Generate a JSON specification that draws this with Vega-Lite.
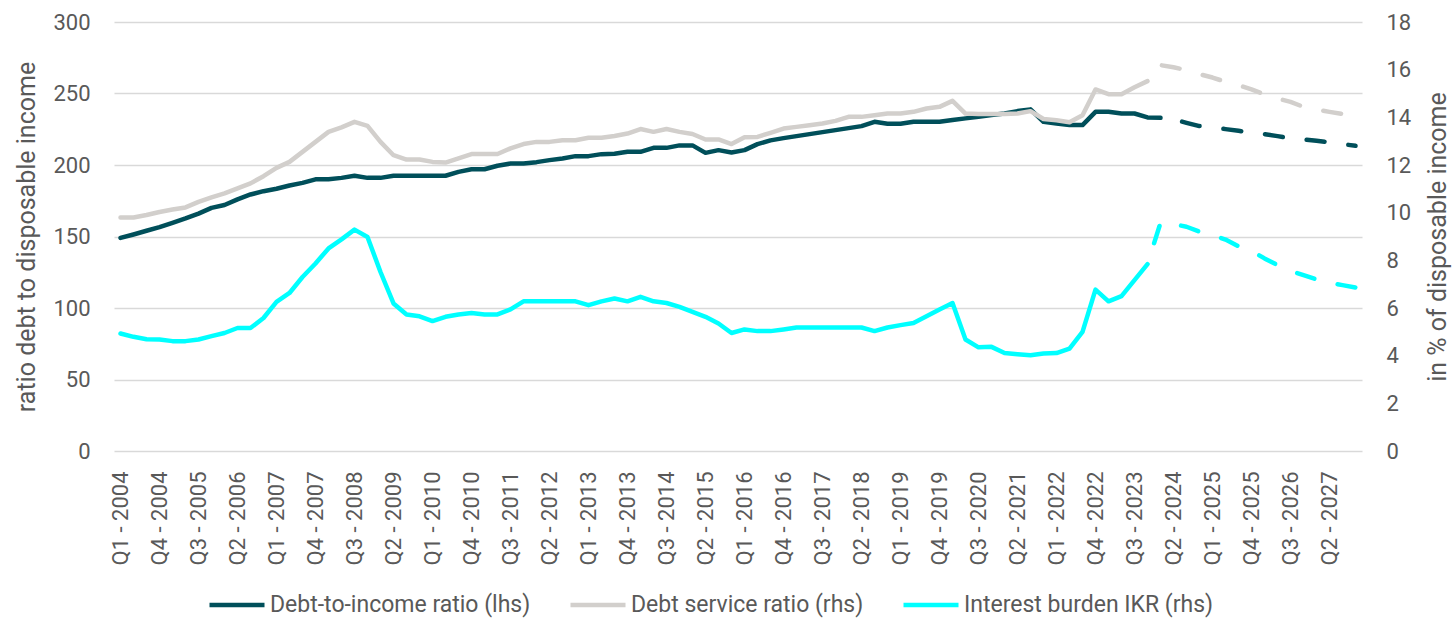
{
  "$schema": "https://vega.github.io/schema/vega-lite/v6.json",
  "width": 1248,
  "height": 429,
  "autosize": {"type": "none"},
  "padding": {"left": 114, "top": 22, "right": 93, "bottom": 172},
  "config": {
    "font": "Roboto",
    "view": {"stroke": null},
    "axis": {"labelFont": "Roboto", "titleFont": "Roboto", "labelColor": "#595959", "titleColor": "#595959", "titleFontWeight": "normal"}
  },
  "data": {"values": [
    {"i":0,"q":"Q1 - 2004","dti":149,"dsr":9.8,"ikr":4.93},
    {"i":1,"q":"Q2 - 2004","dti":151.4,"dsr":9.8,"ikr":4.79},
    {"i":2,"q":"Q3 - 2004","dti":154,"dsr":9.9,"ikr":4.69},
    {"i":3,"q":"Q4 - 2004","dti":156.5,"dsr":10.03,"ikr":4.68},
    {"i":4,"q":"Q1 - 2005","dti":159.6,"dsr":10.13,"ikr":4.61},
    {"i":5,"q":"Q2 - 2005","dti":162.6,"dsr":10.22,"ikr":4.61},
    {"i":6,"q":"Q3 - 2005","dti":166,"dsr":10.45,"ikr":4.68},
    {"i":7,"q":"Q4 - 2005","dti":170,"dsr":10.64,"ikr":4.82},
    {"i":8,"q":"Q1 - 2006","dti":172,"dsr":10.81,"ikr":4.95},
    {"i":9,"q":"Q2 - 2006","dti":176,"dsr":11.02,"ikr":5.16},
    {"i":10,"q":"Q3 - 2006","dti":179.4,"dsr":11.23,"ikr":5.16},
    {"i":11,"q":"Q4 - 2006","dti":181.7,"dsr":11.53,"ikr":5.58},
    {"i":12,"q":"Q1 - 2007","dti":183.4,"dsr":11.88,"ikr":6.26},
    {"i":13,"q":"Q2 - 2007","dti":185.7,"dsr":12.13,"ikr":6.63},
    {"i":14,"q":"Q3 - 2007","dti":187.5,"dsr":12.55,"ikr":7.3},
    {"i":15,"q":"Q4 - 2007","dti":190,"dsr":12.97,"ikr":7.87},
    {"i":16,"q":"Q1 - 2008","dti":190,"dsr":13.39,"ikr":8.5},
    {"i":17,"q":"Q2 - 2008","dti":191,"dsr":13.58,"ikr":8.88},
    {"i":18,"q":"Q3 - 2008","dti":192.5,"dsr":13.81,"ikr":9.29},
    {"i":19,"q":"Q4 - 2008","dti":191,"dsr":13.64,"ikr":8.98},
    {"i":20,"q":"Q1 - 2009","dti":191,"dsr":12.97,"ikr":7.51},
    {"i":21,"q":"Q2 - 2009","dti":192.5,"dsr":12.41,"ikr":6.19},
    {"i":22,"q":"Q3 - 2009","dti":192.5,"dsr":12.23,"ikr":5.73},
    {"i":23,"q":"Q4 - 2009","dti":192.5,"dsr":12.23,"ikr":5.65},
    {"i":24,"q":"Q1 - 2010","dti":192.5,"dsr":12.13,"ikr":5.45},
    {"i":25,"q":"Q2 - 2010","dti":192.5,"dsr":12.1,"ikr":5.63},
    {"i":26,"q":"Q3 - 2010","dti":195.2,"dsr":12.28,"ikr":5.73},
    {"i":27,"q":"Q4 - 2010","dti":197,"dsr":12.46,"ikr":5.79},
    {"i":28,"q":"Q1 - 2011","dti":197,"dsr":12.46,"ikr":5.73},
    {"i":29,"q":"Q2 - 2011","dti":199.5,"dsr":12.46,"ikr":5.73},
    {"i":30,"q":"Q3 - 2011","dti":201,"dsr":12.7,"ikr":5.94},
    {"i":31,"q":"Q4 - 2011","dti":201,"dsr":12.88,"ikr":6.28},
    {"i":32,"q":"Q1 - 2012","dti":202,"dsr":12.97,"ikr":6.28},
    {"i":33,"q":"Q2 - 2012","dti":203.4,"dsr":12.97,"ikr":6.28},
    {"i":34,"q":"Q3 - 2012","dti":204.6,"dsr":13.04,"ikr":6.28},
    {"i":35,"q":"Q4 - 2012","dti":206.2,"dsr":13.04,"ikr":6.28},
    {"i":36,"q":"Q1 - 2013","dti":206.2,"dsr":13.14,"ikr":6.12},
    {"i":37,"q":"Q2 - 2013","dti":207.6,"dsr":13.14,"ikr":6.28},
    {"i":38,"q":"Q3 - 2013","dti":207.8,"dsr":13.22,"ikr":6.4},
    {"i":39,"q":"Q4 - 2013","dti":209.2,"dsr":13.32,"ikr":6.28},
    {"i":40,"q":"Q1 - 2014","dti":209.2,"dsr":13.51,"ikr":6.47},
    {"i":41,"q":"Q2 - 2014","dti":212,"dsr":13.39,"ikr":6.28},
    {"i":42,"q":"Q3 - 2014","dti":212,"dsr":13.51,"ikr":6.21},
    {"i":43,"q":"Q4 - 2014","dti":213.7,"dsr":13.39,"ikr":6.05},
    {"i":44,"q":"Q1 - 2015","dti":213.7,"dsr":13.3,"ikr":5.84},
    {"i":45,"q":"Q2 - 2015","dti":208.5,"dsr":13.07,"ikr":5.63},
    {"i":46,"q":"Q3 - 2015","dti":210.4,"dsr":13.07,"ikr":5.35},
    {"i":47,"q":"Q4 - 2015","dti":208.8,"dsr":12.88,"ikr":4.95},
    {"i":48,"q":"Q1 - 2016","dti":210.4,"dsr":13.16,"ikr":5.1},
    {"i":49,"q":"Q2 - 2016","dti":214.6,"dsr":13.18,"ikr":5.03},
    {"i":50,"q":"Q3 - 2016","dti":217.2,"dsr":13.35,"ikr":5.03},
    {"i":51,"q":"Q4 - 2016","dti":218.8,"dsr":13.53,"ikr":5.1},
    {"i":52,"q":"Q1 - 2017","dti":220.2,"dsr":13.6,"ikr":5.18},
    {"i":53,"q":"Q2 - 2017","dti":221.6,"dsr":13.67,"ikr":5.18},
    {"i":54,"q":"Q3 - 2017","dti":223,"dsr":13.74,"ikr":5.18},
    {"i":55,"q":"Q4 - 2017","dti":224.4,"dsr":13.85,"ikr":5.18},
    {"i":56,"q":"Q1 - 2018","dti":225.8,"dsr":14.02,"ikr":5.18},
    {"i":57,"q":"Q2 - 2018","dti":227.2,"dsr":14.02,"ikr":5.18},
    {"i":58,"q":"Q3 - 2018","dti":230.2,"dsr":14.09,"ikr":5.03},
    {"i":59,"q":"Q4 - 2018","dti":228.8,"dsr":14.16,"ikr":5.18},
    {"i":60,"q":"Q1 - 2019","dti":228.8,"dsr":14.16,"ikr":5.28},
    {"i":61,"q":"Q2 - 2019","dti":230.2,"dsr":14.23,"ikr":5.37},
    {"i":62,"q":"Q3 - 2019","dti":230.2,"dsr":14.37,"ikr":5.65},
    {"i":63,"q":"Q4 - 2019","dti":230.2,"dsr":14.44,"ikr":5.94},
    {"i":64,"q":"Q1 - 2020","dti":231.4,"dsr":14.69,"ikr":6.21},
    {"i":65,"q":"Q2 - 2020","dti":232.6,"dsr":14.16,"ikr":4.68},
    {"i":66,"q":"Q3 - 2020","dti":233.7,"dsr":14.14,"ikr":4.35},
    {"i":67,"q":"Q4 - 2020","dti":234.9,"dsr":14.14,"ikr":4.37},
    {"i":68,"q":"Q1 - 2021","dti":236,"dsr":14.14,"ikr":4.11},
    {"i":69,"q":"Q2 - 2021","dti":237.7,"dsr":14.16,"ikr":4.06},
    {"i":70,"q":"Q3 - 2021","dti":238.9,"dsr":14.26,"ikr":4.02},
    {"i":71,"q":"Q4 - 2021","dti":230.2,"dsr":13.93,"ikr":4.09},
    {"i":72,"q":"Q1 - 2022","dti":229,"dsr":13.88,"ikr":4.11},
    {"i":73,"q":"Q2 - 2022","dti":227.9,"dsr":13.79,"ikr":4.3},
    {"i":74,"q":"Q3 - 2022","dti":227.9,"dsr":14.09,"ikr":5.0},
    {"i":75,"q":"Q4 - 2022","dti":237.2,"dsr":15.17,"ikr":6.77},
    {"i":76,"q":"Q1 - 2023","dti":237.2,"dsr":14.97,"ikr":6.28},
    {"i":77,"q":"Q2 - 2023","dti":236,"dsr":14.97,"ikr":6.5},
    {"i":78,"q":"Q3 - 2023","dti":236,"dsr":15.26,"ikr":7.17},
    {"i":79,"q":"Q4 - 2023","dti":233.3,"dsr":15.52,"ikr":7.84,"dsrF":15.52,"ikrF":7.84},
    {"i":80,"q":"Q1 - 2024","dti":233,"dtiF":233,"dsrF":16.19,"ikrF":9.57},
    {"i":81,"q":"Q2 - 2024","dtiF":231.9,"dsrF":16.1,"ikrF":9.52},
    {"i":82,"q":"Q3 - 2024","dtiF":229.5,"dsrF":15.98,"ikrF":9.41},
    {"i":83,"q":"Q4 - 2024","dtiF":227.2,"dsrF":15.81,"ikrF":9.2},
    {"i":84,"q":"Q1 - 2025","dtiF":226.3,"dsrF":15.67,"ikrF":9.06},
    {"i":85,"q":"Q2 - 2025","dtiF":225.1,"dsrF":15.49,"ikrF":8.87},
    {"i":86,"q":"Q3 - 2025","dtiF":223.9,"dsrF":15.35,"ikrF":8.59},
    {"i":87,"q":"Q4 - 2025","dtiF":222.5,"dsrF":15.17,"ikrF":8.4},
    {"i":88,"q":"Q1 - 2026","dtiF":221.6,"dsrF":14.96,"ikrF":8.08},
    {"i":89,"q":"Q2 - 2026","dtiF":220.2,"dsrF":14.79,"ikrF":7.8},
    {"i":90,"q":"Q3 - 2026","dtiF":218.6,"dsrF":14.65,"ikrF":7.56},
    {"i":91,"q":"Q4 - 2026","dtiF":217.9,"dsrF":14.44,"ikrF":7.38},
    {"i":92,"q":"Q1 - 2027","dtiF":216.9,"dsrF":14.33,"ikrF":7.2},
    {"i":93,"q":"Q2 - 2027","dtiF":215.8,"dsrF":14.23,"ikrF":7.05},
    {"i":94,"q":"Q3 - 2027","dtiF":214.6,"dsrF":14.14,"ikrF":6.96},
    {"i":95,"q":"Q4 - 2027","dtiF":213.4,"dsrF":14.08,"ikrF":6.86}
  ]},
  "encoding": {
    "x": {
      "field": "q", "type": "ordinal",
      "sort": {"field": "i", "op": "min"},
      "scale": {"padding": 0.5},
      "axis": {
        "values": ["Q1 - 2004","Q4 - 2004","Q3 - 2005","Q2 - 2006","Q1 - 2007","Q4 - 2007","Q3 - 2008","Q2 - 2009","Q1 - 2010","Q4 - 2010","Q3 - 2011","Q2 - 2012","Q1 - 2013","Q4 - 2013","Q3 - 2014","Q2 - 2015","Q1 - 2016","Q4 - 2016","Q3 - 2017","Q2 - 2018","Q1 - 2019","Q4 - 2019","Q3 - 2020","Q2 - 2021","Q1 - 2022","Q4 - 2022","Q3 - 2023","Q2 - 2024","Q1 - 2025","Q4 - 2025","Q3 - 2026","Q2 - 2027"],
        "labelAngle": -90, "labelFontSize": 22, "labelPadding": 20,
        "ticks": false, "domain": false, "grid": false, "title": null
      }
    }
  },
  "layer": [
    {
      "layer": [
        {
          "transform": [{"fold": ["dti"], "as": ["series", "v"]}],
          "mark": {"type": "line", "strokeWidth": 4.5, "strokeCap": "round", "strokeJoin": "round"},
          "encoding": {
            "y": {"field": "v", "type": "quantitative", "scale": {"domain": [0, 300]},
              "axis": {"values": [0,50,100,150,200,250,300], "grid": true, "gridColor": "#D9D9D9", "gridWidth": 1.5, "domain": false, "ticks": false, "labelFontSize": 22, "labelPadding": 24, "title": "ratio debt to disposable income", "titleFontSize": 25, "titlePadding": 13}},
            "color": {"field": "series", "type": "nominal",
              "scale": {"domain": ["dti", "dsr", "ikr"], "range": ["#004F5A", "#D2CFCC", "#00FFFF"]},
              "legend": {"title": null, "orient": "none", "legendX": 93, "legendY": 553, "direction": "horizontal", "symbolType": "stroke", "symbolSize": 3025, "symbolStrokeWidth": 4.5, "labelFontSize": 23, "labelFont": "Roboto", "labelColor": "#595959", "labelLimit": 600, "labelOffset": 3, "columnPadding": 30,
                "labelExpr": "datum.value == 'dti' ? 'Debt-to-income ratio (lhs)' : datum.value == 'dsr' ? 'Debt service ratio (rhs)' : 'Interest burden IKR (rhs)'"}},
            "order": {"field": "i", "type": "quantitative"}
          }
        },
        {
          "mark": {"type": "line", "color": "#004F5A", "strokeWidth": 4.5, "strokeCap": "round", "strokeJoin": "round", "strokeDash": [18, 24], "strokeDashOffset": 20},
          "encoding": {
            "y": {"field": "dtiF", "type": "quantitative", "scale": {"domain": [0, 300]},
              "axis": {"values": [0,50,100,150,200,250,300], "grid": true, "gridColor": "#D9D9D9", "gridWidth": 1.5, "domain": false, "ticks": false, "labelFontSize": 22, "labelPadding": 24, "title": "ratio debt to disposable income", "titleFontSize": 25, "titlePadding": 13}},
            "order": {"field": "i", "type": "quantitative"}
          }
        }
      ]
    },
    {
      "layer": [
        {
          "transform": [{"fold": ["dsr", "ikr"], "as": ["series", "v"]}],
          "mark": {"type": "line", "strokeWidth": 4.5, "strokeCap": "round", "strokeJoin": "round"},
          "encoding": {
            "y": {"field": "v", "type": "quantitative", "scale": {"domain": [0, 18]},
              "axis": {"orient": "right", "values": [0,2,4,6,8,10,12,14,16,18], "grid": false, "domain": false, "ticks": false, "labelFontSize": 22, "labelPadding": 24, "title": "in % of disposable income", "titleFontSize": 25, "titlePadding": 40, "titleAngle": -90}},
            "color": {"field": "series", "type": "nominal",
              "scale": {"domain": ["dti", "dsr", "ikr"], "range": ["#004F5A", "#D2CFCC", "#00FFFF"]},
              "legend": {"title": null, "orient": "none", "legendX": 93, "legendY": 553, "direction": "horizontal", "symbolType": "stroke", "symbolSize": 3025, "symbolStrokeWidth": 4.5, "labelFontSize": 23, "labelFont": "Roboto", "labelColor": "#595959", "labelLimit": 600, "labelOffset": 3, "columnPadding": 30,
                "labelExpr": "datum.value == 'dti' ? 'Debt-to-income ratio (lhs)' : datum.value == 'dsr' ? 'Debt service ratio (rhs)' : 'Interest burden IKR (rhs)'"}},
            "order": {"field": "i", "type": "quantitative"}
          }
        },
        {
          "mark": {"type": "line", "color": "#D2CFCC", "strokeWidth": 4.5, "strokeCap": "round", "strokeJoin": "round", "strokeDash": [18, 24], "strokeDashOffset": 20},
          "encoding": {
            "y": {"field": "dsrF", "type": "quantitative", "scale": {"domain": [0, 18]},
              "axis": {"orient": "right", "values": [0,2,4,6,8,10,12,14,16,18], "grid": false, "domain": false, "ticks": false, "labelFontSize": 22, "labelPadding": 24, "title": "in % of disposable income", "titleFontSize": 25, "titlePadding": 40, "titleAngle": -90}},
            "order": {"field": "i", "type": "quantitative"}
          }
        },
        {
          "mark": {"type": "line", "color": "#00FFFF", "strokeWidth": 4.5, "strokeCap": "round", "strokeJoin": "round", "strokeDash": [18, 24], "strokeDashOffset": 20},
          "encoding": {
            "y": {"field": "ikrF", "type": "quantitative", "scale": {"domain": [0, 18]},
              "axis": {"orient": "right", "values": [0,2,4,6,8,10,12,14,16,18], "grid": false, "domain": false, "ticks": false, "labelFontSize": 22, "labelPadding": 24, "title": "in % of disposable income", "titleFontSize": 25, "titlePadding": 40, "titleAngle": -90}},
            "order": {"field": "i", "type": "quantitative"}
          }
        }
      ]
    }
  ],
  "resolve": {"scale": {"y": "independent"}}
}
